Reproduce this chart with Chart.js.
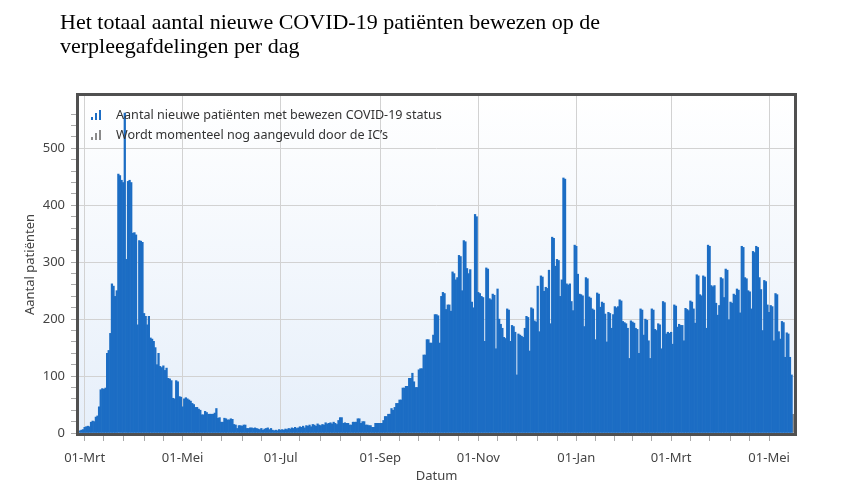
<!DOCTYPE html>
<html>
<head>
<meta charset="utf-8">
<script src="https://cdn.jsdelivr.net/npm/chart.js@4.4.0/dist/chart.umd.min.js"></script>
<style>
  body { margin: 0; background: #fff; }
  #wrap { position: relative; width: 852px; height: 499px; }
  #title { position: absolute; left: 60px; top: 10px; font-family: "Liberation Serif", "DejaVu Serif", serif; font-size: 22px; line-height: 24px; color: #000; }
  #legend { position: absolute; left: 91px; top: 104px; font-family: "Noto Sans", sans-serif; font-size: 12.6px; color: #333; }
  .item { height: 20px; display: flex; align-items: center; }
  .icon { width: 14px; height: 11px; margin-right: 11px; display: flex; align-items: flex-end; gap: 2px; }
  .icon span { width: 2px; display: block; }
</style>
</head>
<body>
<div id="wrap">
  <canvas id="myChart" width="852" height="499"></canvas>
  <div id="title">Het totaal aantal nieuwe COVID-19 patiënten bewezen op de<br>verpleegafdelingen per dag</div>
  <div id="legend">
    <div class="item"><div class="icon"><span style="height:3px;background:#1c6dc4"></span><span style="height:7px;background:#1c6dc4"></span><span style="height:10px;background:#1c6dc4"></span></div>Aantal nieuwe patiënten met bewezen COVID-19 status</div>
    <div class="item"><div class="icon"><span style="height:3px;background:#8a8a8a"></span><span style="height:7px;background:#8a8a8a"></span><span style="height:10px;background:#8a8a8a"></span></div>Wordt momenteel nog aangevuld door de IC’s</div>
  </div>
</div>
<script>
"use strict"

// first day in the chart: 27 feb 2020, one bar per day
const startYear = 2020, startMonth = 1, startDay = 27
const monthNames = ['Jan', 'Feb', 'Mrt', 'Apr', 'Mei', 'Jun', 'Jul', 'Aug', 'Sep', 'Okt', 'Nov', 'Dec']
const labelMonths = [0, 2, 4, 6, 8, 10]  // 01-Jan, 01-Mrt, 01-Mei ...

const admissions = [
  4, 5, 6, 10, 11, 12, 11, 19, 21, 20,
  28, 30, 46, 76, 78, 77, 79, 140, 145, 175,
  262, 258, 240, 250, 455, 452, 444, 440, 562, 305,
  442, 444, 440, 351, 352, 348, 190, 338, 337, 335,
  210, 205, 190, 205, 167, 165, 161, 150, 120, 140,
  117, 115, 118, 110, 114, 96, 95, 92, 61, 60,
  92, 90, 64, 63, 46, 60, 62, 60, 58, 56,
  52, 50, 45, 45, 42, 40, 32, 32, 38, 36,
  33, 33, 33, 33, 35, 43, 26, 27, 19, 19,
  26, 25, 23, 23, 25, 24, 15, 14, 8, 13,
  13, 12, 14, 14, 8, 8, 9, 9, 8, 9,
  8, 7, 6, 8, 5, 7, 8, 9, 6, 8,
  5, 4, 5, 4, 6, 5, 6, 5, 7, 6,
  8, 7, 9, 8, 10, 8, 9, 11, 10, 12,
  9, 13, 12, 14, 11, 15, 14, 12, 16, 14,
  13, 15, 14, 18, 16, 17, 18, 16, 19, 17,
  15, 22, 27, 27, 17, 18, 17, 17, 14, 14,
  19, 19, 19, 25, 25, 17, 20, 20, 14, 14,
  13, 13, 10, 10, 17, 17, 17, 17, 17, 22,
  29, 29, 33, 33, 43, 40, 45, 52, 52, 58,
  58, 79, 79, 82, 82, 96, 96, 105, 90, 80,
  80, 111, 113, 113, 137, 137, 164, 164, 158, 158,
  172, 208, 208, 206, 158, 240, 247, 245, 217, 225,
  225, 214, 283, 280, 269, 273, 312, 310, 250, 338,
  336, 289, 280, 287, 230, 220, 384, 380, 247, 245,
  240, 238, 161, 290, 288, 236, 234, 244, 242, 148,
  253, 200, 191, 184, 168, 166, 218, 216, 161, 189,
  187, 177, 102, 174, 172, 170, 168, 184, 205, 203,
  144, 220, 218, 197, 195, 258, 178, 276, 274, 249,
  256, 254, 286, 192, 344, 342, 293, 305, 303, 240,
  269, 448, 446, 262, 260, 262, 231, 215, 330, 328,
  279, 244, 243, 241, 187, 273, 271, 239, 237, 218,
  216, 164, 246, 244, 221, 230, 228, 209, 160, 212,
  210, 184, 208, 222, 220, 222, 234, 232, 196, 194,
  192, 184, 131, 197, 195, 193, 184, 182, 140, 218,
  216, 172, 200, 198, 162, 131, 218, 216, 182, 180,
  192, 190, 148, 231, 229, 174, 177, 175, 177, 156,
  225, 223, 186, 191, 189, 189, 162, 219, 217, 215,
  232, 230, 218, 193, 278, 276, 243, 241, 276, 274,
  184, 330, 328, 259, 257, 259, 228, 207, 224, 273,
  271, 238, 288, 286, 199, 230, 228, 244, 242, 253,
  251, 211, 328, 326, 273, 271, 250, 248, 218, 319,
  317, 328, 326, 273, 252, 180, 268, 266, 225, 212,
  224, 222, 162, 245, 243, 178, 165, 196, 194, 133,
  176, 174, 133, 102, null
]
// last day(s): still being completed
const pending = [33]

const labels = []
const majorIdx = []
for (let i = 0; i < admissions.length; i++) {
  const d = new Date(startYear, startMonth, startDay + i)
  const day = d.getDate()
  labels.push((day < 10 ? '0' : '') + day + '-' + monthNames[d.getMonth()])
  if (day === 1 && labelMonths.includes(d.getMonth())) majorIdx.push(i)
}
const majorSet = new Set(majorIdx)

const pendingSeries = admissions.map((v, i) => {
  const k = i - (admissions.length - pending.length)
  return k >= 0 ? pending[k] : null
})

const axisFont = { family: 'Noto Sans', size: 13 }

const frameAndBackground = {
  id: 'frameAndBackground',
  beforeDraw(chart) {
    const { ctx, chartArea: a } = chart
    const g = ctx.createLinearGradient(0, a.top, 0, a.bottom)
    g.addColorStop(0, '#ffffff')
    g.addColorStop(1, '#e6effa')
    ctx.save()
    ctx.fillStyle = g
    ctx.fillRect(a.left, a.top, a.right - a.left, a.bottom - a.top)
    ctx.restore()
  },
  afterDatasetsDraw(chart) {
    const { ctx, chartArea: a } = chart
    ctx.save()
    ctx.strokeStyle = '#505050'
    ctx.lineWidth = 3
    ctx.strokeRect(a.left - 1.5, a.top - 1.5, a.right - a.left + 3, a.bottom - a.top + 3)
    ctx.restore()
  }
}

let myChart = document.getElementById('myChart').getContext('2d')

let admissionsChart = new Chart(myChart, {
  type: 'bar',
  data: {
    labels: labels,
    datasets: [{
      label: 'Aantal nieuwe patiënten met bewezen COVID-19 status',
      data: admissions,
      backgroundColor: '#1c6dc4',
      barPercentage: 1,
      categoryPercentage: 1
    }, {
      label: 'Wordt momenteel nog aangevuld door de IC’s',
      data: pendingSeries,
      backgroundColor: '#8a8a8a',
      barPercentage: 1,
      categoryPercentage: 1
    }]
  },
  options: {
    responsive: false,
    animation: false,
    devicePixelRatio: 1,
    layout: { padding: { top: 96, right: 58, left: 0, bottom: 0 } },
    plugins: { legend: { display: false }, tooltip: { enabled: false } },
    scales: {
      x: {
        stacked: true,
        afterFit: s => { s.height = 66 },
        afterBuildTicks: scale => {
          const list = []
          for (let k = 0; k < majorIdx.length; k++) {
            list.push(majorIdx[k])
            if (k < majorIdx.length - 1) {
              const a = majorIdx[k], b = majorIdx[k + 1]
              for (let m = 1; m < 5; m++) list.push(Math.round(a + (b - a) * m / 5))
            }
          }
          scale.ticks = list.map(v => ({ value: v }))
        },
        ticks: {
          autoSkip: false,
          maxRotation: 0,
          padding: 9,
          color: '#444',
          font: axisFont,
          callback: function (value) { return majorSet.has(value) ? this.getLabelForValue(value) : '' }
        },
        grid: {
          offset: false,
          color: c => (c.tick && majorSet.has(c.tick.value)) ? '#d2d2d2' : 'rgba(0,0,0,0)',
          tickLength: 8,
          tickColor: '#aaa'
        },
        border: { display: false },
        title: { display: true, text: 'Datum', color: '#444', font: axisFont, padding: { top: 0, bottom: 15 } }
      },
      y: {
        stacked: true,
        min: 0,
        max: 592,
        afterFit: s => { s.width = 79 },
        ticks: {
          stepSize: 20,
          autoSkip: false,
          padding: 6,
          color: '#444',
          font: axisFont,
          callback: v => v % 100 === 0 ? v : ''
        },
        grid: {
          color: c => (c.tick && c.tick.value % 100 === 0 && c.tick.value > 0) ? '#d2d2d2' : 'rgba(0,0,0,0)',
          tickLength: 8,
          tickColor: c => (c.tick && c.tick.value % 20 === 0) ? '#aaa' : 'rgba(0,0,0,0)'
        },
        border: { display: false },
        title: { display: true, text: 'Aantal patiënten', color: '#444', font: axisFont, padding: { top: 22, bottom: 0 } }
      }
    }
  },
  plugins: [frameAndBackground]
})
</script>
</body>
</html>
